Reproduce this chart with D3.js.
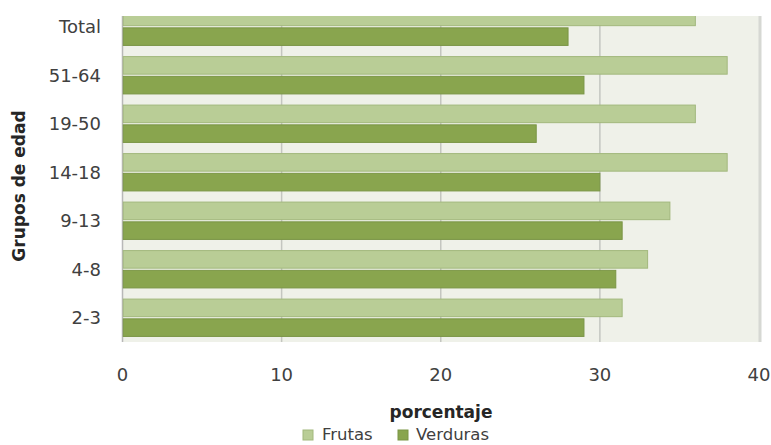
<!DOCTYPE html>
<html>
<head>
<meta charset="utf-8">
<script src="https://cdn.jsdelivr.net/npm/d3@7"></script>
<style>
  html, body { margin: 0; padding: 0; background: #fff; }
  svg { display: block; font-family: "DejaVu Sans", sans-serif; }
</style>
</head>
<body>
<svg id="chart" width="771" height="445"></svg>
<script>
// age groups, top to bottom as drawn
const groups = ['Total', '51-64', '19-50', '14-18', '9-13', '4-8', '2-3'];
const seriesNames = ['Frutas', 'Verduras'];
const frutas = [36, 38, 36, 38, 34.4, 33, 31.4];
const verduras = [28, 29, 26, 30, 31.4, 31, 29];
const xTicks = [0, 10, 20, 30, 40];

const colors = { Frutas: '#b9cd96', Verduras: '#89a54e' };
const strokes = { Frutas: '#a2b87d', Verduras: '#7a9545' };

const rows = groups.map((g, i) => ({ group: g, Frutas: frutas[i], Verduras: verduras[i] }));

const svg = d3.select('#chart');

const plotTop = 16, plotBottom = 342;
const x = d3.scaleLinear().domain([0, 40]).range([122.5, 759]);
// the top of the first band sits above the visible plot area (cropped)
const y = d3.scaleBand().domain(groups).range([plotBottom - 7 * 48.5, plotBottom])
    .paddingInner(0.23).paddingOuter(0.115);
const ySub = d3.scaleBand().domain(seriesNames).range([0, y.bandwidth()]).paddingInner(0.11);

svg.append('defs').append('clipPath').attr('id', 'plotClip')
    .append('rect')
    .attr('x', 0).attr('y', plotTop)
    .attr('width', 771).attr('height', plotBottom - plotTop);

// plot background
svg.append('rect')
    .attr('x', x(0)).attr('y', plotTop)
    .attr('width', x(40) - x(0)).attr('height', plotBottom - plotTop)
    .attr('fill', '#eff1e9');

// gridlines
svg.append('g').selectAll('line')
    .data(xTicks.slice(1, -1))
    .join('line')
    .attr('x1', d => x(d)).attr('x2', d => x(d))
    .attr('y1', plotTop).attr('y2', plotBottom)
    .attr('stroke', '#c4c6c0').attr('stroke-width', 1.5);

// left axis line and right border
svg.append('line')
    .attr('x1', x(0)).attr('x2', x(0))
    .attr('y1', plotTop).attr('y2', plotBottom)
    .attr('stroke', '#b8b8b8').attr('stroke-width', 1.5);
svg.append('line')
    .attr('x1', x(40) + 1).attr('x2', x(40) + 1)
    .attr('y1', plotTop).attr('y2', plotBottom)
    .attr('stroke', '#d6d8d3').attr('stroke-width', 3);

// bars
const barG = svg.append('g').attr('clip-path', 'url(#plotClip)');
barG.selectAll('g')
    .data(rows)
    .join('g')
    .attr('transform', d => `translate(0,${y(d.group)})`)
    .selectAll('rect')
    .data(d => seriesNames.map(k => ({ key: k, value: d[k] })))
    .join('rect')
    .attr('x', x(0) + 0.75)
    .attr('y', d => ySub(d.key))
    .attr('width', d => x(d.value) - x(0) - 0.75)
    .attr('height', ySub.bandwidth())
    .attr('fill', d => colors[d.key])
    .attr('stroke', d => strokes[d.key])
    .attr('stroke-width', 1);

// y axis labels
svg.append('g').selectAll('text')
    .data(groups)
    .join('text')
    .attr('x', 101)
    .attr('y', d => y(d) + y.bandwidth() / 2)
    .attr('dy', '0.36em')
    .attr('text-anchor', 'end')
    .attr('font-size', 18)
    .attr('fill', '#404040')
    .text(d => d);

// x axis tick labels
svg.append('g').selectAll('text')
    .data(xTicks)
    .join('text')
    .attr('x', d => x(d))
    .attr('y', 381)
    .attr('text-anchor', 'middle')
    .attr('font-size', 18)
    .attr('fill', '#404040')
    .text(d => d);

// axis titles
svg.append('text')
    .attr('x', 441).attr('y', 418)
    .attr('text-anchor', 'middle')
    .attr('font-size', 17)
    .attr('font-weight', 'bold')
    .attr('fill', '#262626')
    .text('porcentaje');

svg.append('text')
    .attr('transform', 'translate(25,186) rotate(-90)')
    .attr('text-anchor', 'middle')
    .attr('font-size', 17)
    .attr('font-weight', 'bold')
    .attr('fill', '#262626')
    .text('Grupos de edad');

// legend
const legend = svg.append('g');
const legendItems = [
    { key: 'Frutas', sx: 303, tx: 322 },
    { key: 'Verduras', sx: 398, tx: 416 }
];
legend.selectAll('rect')
    .data(legendItems)
    .join('rect')
    .attr('x', d => d.sx).attr('y', 430)
    .attr('width', 10).attr('height', 10)
    .attr('fill', d => colors[d.key])
    .attr('stroke', d => strokes[d.key]);
legend.selectAll('text')
    .data(legendItems)
    .join('text')
    .attr('x', d => d.tx).attr('y', 440)
    .attr('font-size', 16.5)
    .attr('fill', '#404040')
    .text(d => d.key);
</script>
</body>
</html>
